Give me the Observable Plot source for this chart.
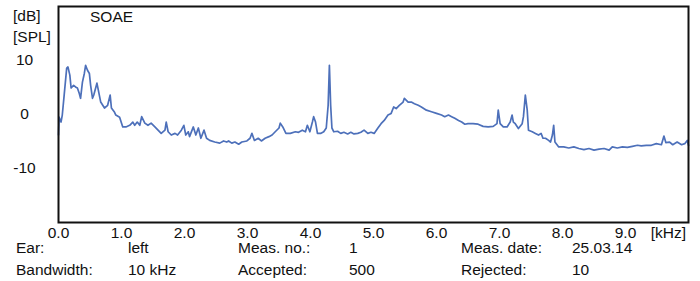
<!DOCTYPE html>
<html>
<head>
<meta charset="utf-8">
<script src="https://cdn.jsdelivr.net/npm/d3@7"></script>
<script src="https://cdn.jsdelivr.net/npm/@observablehq/plot@0.6"></script>
<style>
  html, body { margin: 0; padding: 0; background: #fff; }
  #chart svg { display: block; }
</style>
</head>
<body>
<div id="chart"></div>
<script>
// Frequency (kHz) and SOAE level (dB SPL)
const freq = [0.00,0.01,0.04,0.06,0.09,0.13,0.15,0.18,0.20,0.24,0.27,0.30,0.33,0.35,0.38,0.41,0.43,0.46,0.49,0.51,0.54,0.56,0.61,0.67,0.73,0.78,0.82,0.84,0.89,0.91,0.97,1.02,1.07,1.13,1.18,1.21,1.25,1.29,1.32,1.37,1.42,1.47,1.53,1.58,1.63,1.69,1.71,1.74,1.79,1.85,1.89,1.95,1.99,2.02,2.06,2.08,2.14,2.18,2.22,2.26,2.31,2.35,2.40,2.48,2.56,2.62,2.67,2.70,2.75,2.80,2.86,2.91,2.99,3.04,3.07,3.11,3.17,3.22,3.28,3.34,3.39,3.44,3.50,3.52,3.56,3.61,3.68,3.76,3.81,3.87,3.92,3.95,3.99,4.03,4.05,4.08,4.11,4.16,4.21,4.25,4.28,4.30,4.32,4.34,4.37,4.43,4.48,4.53,4.59,4.64,4.69,4.75,4.80,4.85,4.91,4.96,5.01,5.07,5.12,5.17,5.23,5.28,5.32,5.36,5.41,5.47,5.49,5.55,5.60,5.65,5.71,5.76,5.84,5.92,6.00,6.08,6.13,6.19,6.24,6.29,6.35,6.40,6.45,6.50,6.58,6.66,6.74,6.82,6.90,6.96,6.98,7.01,7.06,7.12,7.17,7.20,7.22,7.25,7.30,7.36,7.38,7.41,7.44,7.46,7.52,7.57,7.62,7.66,7.69,7.73,7.78,7.81,7.84,7.86,7.88,7.94,8.02,8.10,8.18,8.26,8.34,8.42,8.50,8.58,8.66,8.74,8.79,8.87,8.95,9.03,9.11,9.19,9.25,9.33,9.41,9.49,9.57,9.61,9.64,9.70,9.75,9.82,9.89,9.94,9.98,10.00];
const level = [-3.8,-0.5,-1.4,-0.1,3.6,8.6,8.8,7.3,4.9,5.4,5.1,4.9,3.9,3.0,6.0,7.6,9.1,8.2,7.6,5.4,3.0,3.6,5.8,2.3,1.2,1.7,3.6,1.2,0.4,-0.1,-0.5,-2.3,-2.3,-2.0,-1.4,-2.0,-1.4,-2.0,-0.4,-1.6,-2.0,-1.6,-2.3,-2.9,-3.5,-2.9,-1.4,-3.2,-3.8,-3.5,-3.8,-2.9,-2.0,-3.8,-3.2,-4.1,-2.3,-3.8,-2.5,-4.4,-2.9,-4.4,-4.8,-5.1,-5.3,-4.9,-5.1,-4.9,-5.3,-5.1,-5.5,-5.1,-4.9,-4.4,-3.5,-4.8,-4.4,-4.9,-4.4,-4.1,-3.8,-3.2,-2.5,-1.6,-2.3,-3.5,-3.5,-3.2,-3.3,-2.9,-3.2,-2.0,-3.2,-1.4,-0.4,-1.4,-3.5,-3.5,-3.2,-2.5,1.7,9.1,1.7,-2.5,-3.2,-3.1,-3.5,-3.3,-3.6,-3.3,-3.6,-3.5,-3.3,-2.9,-3.5,-3.3,-3.5,-2.5,-1.7,-1.1,-0.1,0.2,1.4,1.1,1.7,2.3,3.0,2.3,2.3,2.0,1.7,1.4,0.8,0.5,0.2,-0.1,-0.4,-0.1,-0.4,-0.7,-1.1,-1.4,-1.8,-1.7,-1.7,-1.8,-2.2,-2.3,-2.2,-1.7,0.8,-1.7,-2.3,-2.3,-1.4,-0.1,-1.4,-1.7,-2.6,-1.7,-0.4,3.6,0.8,-2.9,-3.2,-3.5,-3.8,-3.5,-4.4,-4.4,-4.8,-5.1,-3.8,-2.0,-5.1,-6.0,-6.0,-6.2,-6.0,-6.3,-6.5,-6.3,-6.6,-6.4,-6.3,-6.6,-6.0,-6.2,-6.0,-6.1,-5.9,-5.7,-5.8,-5.7,-5.7,-5.4,-5.6,-4.0,-5.2,-5.1,-5.6,-5.1,-5.6,-5.4,-4.8,-5.7];

const xTicks = [0,1,2,3,4,5,6,7,8,9];
const yTicks = [-10,0,10];
const xUnit = "[kHz]";
const yUnits = ["[dB]", "[SPL]"];
const title = "SOAE";
const infoLabels = [["Ear:", "Bandwidth:"], ["Meas. no.:", "Accepted:"], ["Meas. date:", "Rejected:"]];
const infoValues = [["left", "10 kHz"], ["1", "500"], ["25.03.14", "10"]];

const data = freq.map((f, i) => ({f, dB: level[i]}));

const font = "'Liberation Sans', Arial, sans-serif";
const chart = Plot.plot({
  width: 700,
  height: 281,
  marginLeft: 58,
  marginRight: 12,
  marginTop: 6,
  marginBottom: 59,
  style: {fontFamily: font, fontSize: "15.5px", color: "#111", background: "#fff"},
  x: {domain: [0, 10]},
  y: {domain: [-20, 20]},
  marks: [
    Plot.line(data, {x: "f", y: "dB", stroke: "#4d70ba", strokeWidth: 1.7, strokeLinejoin: "round"}),
    Plot.frame({stroke: "#111", strokeWidth: 2}),
    Plot.axisX(xTicks, {tickSize: 0, tickPadding: 4, tickFormat: d3.format(".1f"), label: null}),
    Plot.axisY(yTicks, {tickSize: 0, tickPadding: 34, textAnchor: "middle", tickFormat: d => String(d), label: null})
  ]
});
document.getElementById("chart").appendChild(chart);

const svg = d3.select(chart);
const g = svg.append("g")
  .attr("font-family", font)
  .attr("font-size", "15.5px")
  .attr("fill", "#111")
  .attr("text-anchor", "start");
g.append("text").attr("x", 90).attr("y", 22).text(title);
g.append("text").attr("x", 13).attr("y", 21).text(yUnits[0]);
g.append("text").attr("x", 13).attr("y", 42).text(yUnits[1]);
g.append("text").attr("x", 686).attr("y", 238).attr("text-anchor", "end").text(xUnit);
const labelX = [16, 238, 461];
const valueX = [128, 349, 572];
const rowY = [253, 275];
infoLabels.forEach((col, c) => col.forEach((t, r) => g.append("text").attr("x", labelX[c]).attr("y", rowY[r]).text(t)));
infoValues.forEach((col, c) => col.forEach((t, r) => g.append("text").attr("x", valueX[c]).attr("y", rowY[r]).text(t)));
</script>
</body>
</html>
